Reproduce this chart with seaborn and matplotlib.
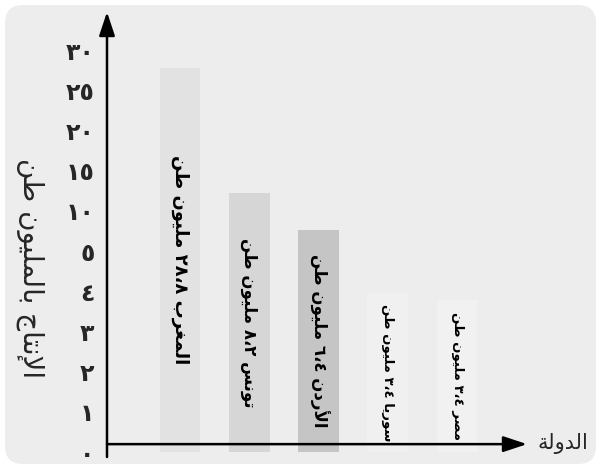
import re
import numpy as np
import pandas as pd
import matplotlib
matplotlib.use("Agg")
import matplotlib.pyplot as plt
import matplotlib.patches as mpatches
import matplotlib.transforms as mtransforms
import seaborn as sns

# data
countries = ["المغرب", "تونس", "الأردن", "سوريا", "مصر"]
printed_values = ["٢٨،٨", "٨،٢", "٦،٤", "٣،٤", "٣،٤"]      # figures written inside the bars
bar_heights = [27.8, 12.2, 7.6, 3.96, 3.78]                # bar tops read against the y axis
bar_colors = ["#e2e2e2", "#d6d6d6", "#c5c5c5", "#f0f0f0", "#f1f1f1"]
label_sizes = [13, 12, 12, 9.5, 9.5]
tick_values = [0, 1, 2, 3, 4, 5, 10, 15, 20, 25, 30]
tick_labels = ["٠", "١", "٢", "٣", "٤", "٥", "١٠", "١٥", "٢٠", "٢٥", "٣٠"]
ylabel = "الإنتاج بالمليون طن"
xlabel = "الدولة"
unit = "مليون طن"

# --- minimal Arabic shaping + visual ordering (matplotlib has no bidi) ---
FORMS = {  # first presentation form, joins to the following letter
    'ا': (0xFE8D, False), 'أ': (0xFE83, False), 'إ': (0xFE87, False),
    'ب': (0xFE8F, True), 'ة': (0xFE93, False), 'ت': (0xFE95, True),
    'ج': (0xFE9D, True), 'د': (0xFEA9, False), 'ر': (0xFEAD, False),
    'س': (0xFEB1, True), 'ص': (0xFEB9, True), 'ط': (0xFEC1, True),
    'غ': (0xFECD, True), 'ل': (0xFEDD, True), 'م': (0xFEE1, True),
    'ن': (0xFEE5, True), 'و': (0xFEED, False), 'ي': (0xFEF1, True),
}
LAM_ALEF = {'ا': 0xFEFB, 'أ': 0xFEF7, 'إ': 0xFEF9}


def shape(text):
    out, i, prev = [], 0, False
    while i < len(text):
        ch = text[i]
        if ch == 'ل' and i + 1 < len(text) and text[i + 1] in LAM_ALEF:
            out.append(chr(LAM_ALEF[text[i + 1]] + int(prev)))
            prev, i = False, i + 2
            continue
        if ch not in FORMS:
            out.append(ch)
            prev, i = False, i + 1
            continue
        base, dual = FORMS[ch]
        nxt = dual and i + 1 < len(text) and text[i + 1] in FORMS
        if dual:
            form = {(False, False): 0, (True, False): 1, (False, True): 2, (True, True): 3}[(prev, nxt)]
        else:
            form = 1 if prev else 0
        out.append(chr(base + form))
        prev, i = dual, i + 1
    return ''.join(out)


def ar(text):
    tokens = re.findall(r'[٠-٩]+(?:[،٫,][٠-٩]+)*|.', shape(text))
    return ''.join(reversed(tokens))


# piecewise y scale: 0..5 by ones, then 5..30 by fives, equal spacing
def fwd(y):
    y = np.asarray(y, dtype=float)
    return np.where(y <= 5, y, 5 + (y - 5) / 5)


def inv(u):
    u = np.asarray(u, dtype=float)
    return np.where(u <= 5, u, 5 + (u - 5) * 5)


df = pd.DataFrame({"country": countries, "height": bar_heights})

sns.set_style("white")
plt.rcParams['font.family'] = ['DejaVu Sans']

fig = plt.figure(figsize=(6.02, 4.68), dpi=100, facecolor="white")
bg = mpatches.FancyBboxPatch((5, 4), 591, 459, boxstyle="round,pad=0,rounding_size=18",
                             transform=mtransforms.IdentityTransform(),
                             facecolor="#ededed", edgecolor="none", zorder=-10)
fig.patches.append(bg)

ax = fig.add_axes([107 / 602, 11 / 468, 420 / 602, 445 / 468])
ax.set_facecolor("none")

sns.barplot(data=df, x="country", y="height", hue="country",
            palette=bar_colors, legend=False, width=0.59, ax=ax,
            saturation=1, linewidth=0)

ax.set_yscale("function", functions=(fwd, inv))
ax.set_ylim(-0.12, 34.75)
ax.set_xlim(-1.054, 5.01)
ax.set_yticks(tick_values)
ax.set_yticklabels(tick_labels, fontsize=17, fontweight="bold")
ax.tick_params(axis="y", length=0, pad=9)
ax.set_xticks([])
for s in ax.spines.values():
    s.set_visible(False)

# axes drawn as arrows
arrow = dict(arrowstyle="-|>,head_length=0.9,head_width=0.3", color="black",
             lw=1.8, mutation_scale=16, shrinkA=0, shrinkB=0)
ax.annotate("", xy=(0, 1), xytext=(0, 0), xycoords="axes fraction", arrowprops=arrow)
ax.annotate("", xy=(1, 0.2), xytext=(0, 0.2), xycoords=("axes fraction", "data"),
            arrowprops=arrow)

# labels inside the bars
for i, (c, v, h, fs) in enumerate(zip(countries, printed_values, bar_heights, label_sizes)):
    ymid = float(inv(fwd(h) / 2))
    ax.text(i, ymid, ar(f"{c} {v} {unit}"), rotation=270, ha="center", va="center",
            fontsize=fs, fontweight="bold", color="black")

ax.set_ylabel(ar(ylabel), rotation=270, va="center", fontsize=20)
ax.yaxis.set_label_coords(-0.183, 0.425)
ax.set_xlabel(ar(xlabel), fontsize=15, va="center")
ax.xaxis.set_label_coords(1.086, 0.03)

fig.savefig("out.png", dpi=100)
plt.close(fig)
